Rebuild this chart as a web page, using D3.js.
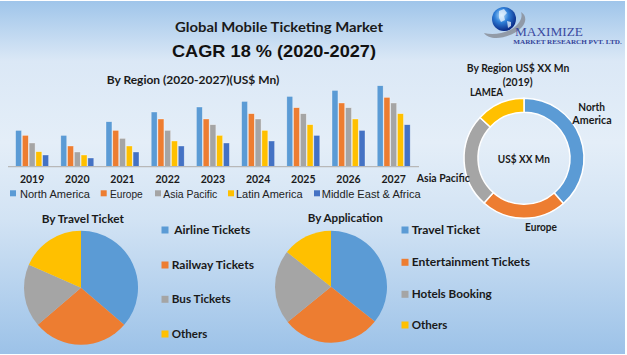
<!DOCTYPE html>
<html><head><meta charset="utf-8">
<script src="https://cdn.jsdelivr.net/npm/d3@7"></script>
<style>html,body{margin:0;padding:0;background:#fff;overflow:hidden}svg{display:block}</style>
</head><body><svg id="c" width="627" height="355"></svg>
<script>
// ---------- data ----------
const years = ["2019","2020","2021","2022","2023","2024","2025","2026","2027"];
const regions = ["North America","Europe","Asia Pacific","Latin America","Middle East & Africa"];
const northAmerica     = [36.3,31.3,45.0,54.7,59.7,65.3,70.3,76.3,81.0];
const europe           = [31.3,20.7,36.3,47.7,47.7,53.0,59.0,63.7,69.3];
const asiaPacific      = [23.7,14.7,28.3,36.3,42.0,47.7,53.0,59.0,63.7];
const latinAmerica     = [15.0,11.7,20.7,25.7,31.3,36.3,42.0,47.7,53.0];
const middleEastAfrica = [11.7, 8.7,14.7,20.7,23.7,25.7,31.3,36.3,42.0];
const donutLabels = ["North America","Europe","Asia Pacific","LAMEA"];
const donutValues = [38.6,23.0,25.3,13.1];
const travelLabels = [" Airline Tickets","Railway Tickets","Bus Tickets","Others"];
const travelValues = [36.3,27.4,17.9,18.4];
const appLabels = ["Travel Ticket","Entertainment Tickets","Hotels Booking","Others"];
const appValues = [35.7,28.4,21.5,14.4];

const palette = ["#5b9bd5","#ed7d31","#a5a5a5","#ffc000","#4472c4"];
const series = [northAmerica, europe, asiaPacific, latinAmerica, middleEastAfrica];

// ---------- setup ----------
const svg = d3.select("#c");
const defs = svg.append("defs");
const bg = defs.append("linearGradient").attr("id","bg").attr("x1",0).attr("y1",0).attr("x2",0).attr("y2",1);
[[0,"#9fc5ea"],[0.17,"#dbe8f6"],[0.4,"#e4eef8"],[0.62,"#d2e3f4"],[1,"#9cc2e8"]]
  .forEach(([o,c])=>bg.append("stop").attr("offset",o).attr("stop-color",c));
const gl = defs.append("radialGradient").attr("id","globe").attr("cx","40%").attr("cy","35%").attr("r","65%");
[[0,"#bfe6ff"],[0.45,"#2f7fd8"],[1,"#0b2a86"]].forEach(([o,c])=>gl.append("stop").attr("offset",o).attr("stop-color",c));

svg.append("rect").attr("width",627).attr("height",355).attr("fill","#fff");
svg.append("rect").attr("x",0).attr("y",1).attr("width",625).attr("height",353).attr("fill","url(#bg)");

const FONT = "Lato, 'Liberation Sans', Arial, sans-serif";
function txt(s, x, y, size, w, opt={}) {
  const t = svg.append("text").attr("x",x).attr("y",y).attr("dy","0.35em")
    .attr("font-family", opt.family || FONT).attr("font-size",size)
    .attr("font-weight", opt.weight || "bold").attr("fill", opt.fill || "#1a1a1a")
    .attr("text-anchor", opt.anchor || "start").style("white-space","pre").text(s);
  if (w) t.attr("textLength",w).attr("lengthAdjust","spacingAndGlyphs");
  return t;
}

// ---------- titles ----------
txt("Global Mobile Ticketing Market", 279, 27, 13, 208, {anchor:"middle"});
txt("CAGR 18 % (2020-2027)", 274, 51, 17, 204, {anchor:"middle", family:"'Liberation Sans', Arial, sans-serif", fill:"#111"});
txt("By Region (2020-2027)(US$ Mn)", 193, 79.5, 11.5, 172.6, {anchor:"middle"});

// ---------- bar chart ----------
const x0 = d3.scaleBand().domain(years).range([9.5, 416.3]).paddingInner(0.27).paddingOuter(0.135);
const x1 = d3.scaleBand().domain(regions).range([0, x0.bandwidth()]).paddingInner(0.12);
const y = d3.scaleLinear().domain([0, 90]).range([166.7, 76.7]);

const groups = svg.append("g").selectAll("g").data(years).join("g")
  .attr("transform", d => `translate(${x0(d)},0)`);
groups.selectAll("rect")
  .data((yr, i) => regions.map((r, k) => ({r, v: series[k][i], k})))
  .join("rect")
  .attr("x", d => x1(d.r)).attr("width", x1.bandwidth())
  .attr("y", d => y(d.v)).attr("height", d => y(0) - y(d.v))
  .attr("fill", d => palette[d.k])
  .attr("stroke","#ffffff").attr("stroke-opacity",0.55).attr("stroke-width",0.6);

const axis = svg.append("g").attr("transform", `translate(0,${y(0)})`)
  .call(d3.axisBottom(x0).tickSize(0).tickPadding(9));
axis.select(".domain").attr("stroke","#b8b8b8").attr("stroke-width",1.2).attr("d","M8,0H419");
axis.selectAll("text").attr("font-family",FONT).attr("font-weight","bold").attr("font-size",10.5).attr("fill","#1a1a1a");

// bar legend
const barLegX = [10, 100.7, 155, 228, 314];
const barTxtX = [20, 110, 163.3, 236, 321.7];
const barTxtW = [70, 32.7, 54, 66.7, 99];
regions.forEach((r, k) => {
  svg.append("rect").attr("x", barLegX[k]).attr("y", 190.3).attr("width",6).attr("height",6).attr("fill", palette[k]);
  txt(r, barTxtX[k], 193.5, 11.5, barTxtW[k], {weight:"normal", family:"'Liberation Sans', Arial, sans-serif", fill:"#222"});
});

// ---------- donut ----------
const donutG = svg.append("g").attr("transform","translate(524,158.3)");
const pie = d3.pie().sort(null).value(d => d);
const donutArc = d3.arc().innerRadius(46).outerRadius(60);
donutG.selectAll("path").data(pie(donutValues)).join("path")
  .attr("d", donutArc).attr("fill", (d,i) => palette[i])
  .attr("stroke","#ffffff").attr("stroke-width",1.5);
txt("By Region US$ XX Mn", 518, 67.7, 11, 102.6, {anchor:"middle"});
txt("(2019)", 517.7, 81.7, 11, 30, {anchor:"middle"});
txt("US$ XX Mn", 523.8, 159.3, 11, 52, {anchor:"middle"});
txt("North", 591.7, 106.7, 11, 26.7, {anchor:"middle"});
txt("America", 592, 120, 11, 39.3, {anchor:"middle"});
txt(donutLabels[1], 541, 226.7, 11, 32, {anchor:"middle"});
txt(donutLabels[2], 443.3, 178.3, 11, 53, {anchor:"middle"});
txt(donutLabels[3], 486.5, 91.7, 11, 33, {anchor:"middle"});

// ---------- logo ----------
svg.append("path")
  .attr("d","M484,33 C490,42 512,38 522,27 C527,21 526,15 521,12 C523,17 520,24 512,29 C503,34 492,35 484,33 Z")
  .attr("fill","#8a8f9a").attr("opacity",0.85);
svg.append("circle").attr("cx",504).attr("cy",19).attr("r",12).attr("fill","url(#globe)");
svg.append("path").attr("d","M499,11 l5,-2 l3,4 l-3,3 l1,4 l-4,2 l-2,-4 z M507,21 l4,1 l0,4 l-3,2 z")
  .attr("fill","#e8f4ff").attr("opacity",0.75);
txt("MAXIMIZE", 515, 31.8, 12, 68, {family:"'Liberation Serif', 'DejaVu Serif', serif", weight:"normal", fill:"#3b4aa0"});
txt("MARKET RESEARCH PVT. LTD.", 513.3, 42.2, 6.5, 108.4, {family:"'Liberation Serif', 'DejaVu Serif', serif", fill:"#34449a"});

// ---------- pies ----------
function drawPie(cx, cy, r, values) {
  const g = svg.append("g").attr("transform", `translate(${cx},${cy})`);
  const arc = d3.arc().innerRadius(0).outerRadius(r);
  g.selectAll("path").data(pie(values)).join("path")
    .attr("d", arc).attr("fill", (d,i) => palette[i]);
}
drawPie(81, 287.7, 57, travelValues);
txt("By Travel Ticket", 82.8, 219.3, 11.5, 82.3, {anchor:"middle"});
const tY = [230, 265, 299.3, 334];
const tW = [78.5, 82.3, 59, 35.6];
travelLabels.forEach((l, i) => {
  svg.append("rect").attr("x",161.5).attr("y",tY[i]-3.5).attr("width",7).attr("height",7).attr("fill",palette[i]);
  txt(l, 171.7, tY[i], 11.5, tW[i]);
});

drawPie(331, 286.7, 56, appValues);
txt("By Application", 345.2, 217.7, 11.5, 75, {anchor:"middle"});
const aY = [230, 262.3, 294.3, 325];
const aW = [68.3, 118.3, 80, 35.7];
appLabels.forEach((l, i) => {
  svg.append("rect").attr("x",401.5).attr("y",aY[i]-3.5).attr("width",7).attr("height",7).attr("fill",palette[i]);
  txt(l, 411.7, aY[i], 11.5, aW[i]);
});
</script></body></html>
